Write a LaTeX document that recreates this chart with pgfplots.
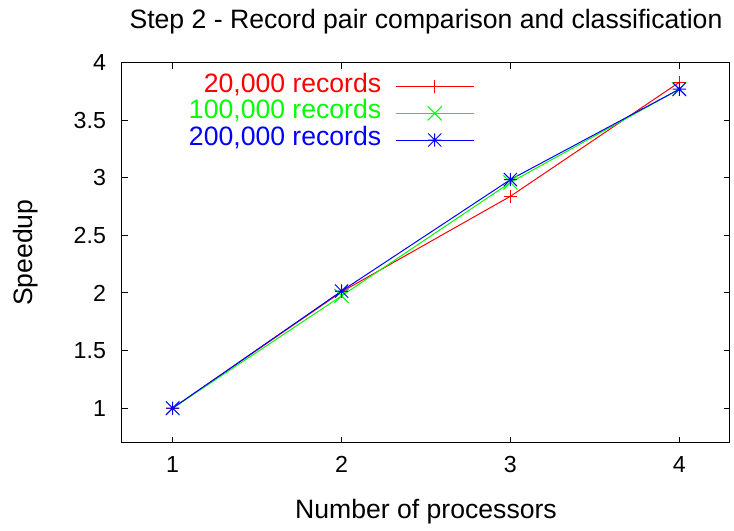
\documentclass[border=0pt]{standalone}
\usepackage{pgfplots}
\pgfplotsset{compat=1.18}
\usepackage{fontspec}
\setmainfont{Liberation Sans}

% gnuplot style marks, all drawn at full mark size
\pgfdeclareplotmark{gpplus}{%
  \pgfpathmoveto{\pgfqpoint{-\pgfplotmarksize}{0pt}}%
  \pgfpathlineto{\pgfqpoint{\pgfplotmarksize}{0pt}}%
  \pgfpathmoveto{\pgfqpoint{0pt}{-\pgfplotmarksize}}%
  \pgfpathlineto{\pgfqpoint{0pt}{\pgfplotmarksize}}%
  \pgfusepathqstroke}
\pgfdeclareplotmark{gpx}{%
  \pgfpathmoveto{\pgfqpoint{-\pgfplotmarksize}{-\pgfplotmarksize}}%
  \pgfpathlineto{\pgfqpoint{\pgfplotmarksize}{\pgfplotmarksize}}%
  \pgfpathmoveto{\pgfqpoint{-\pgfplotmarksize}{\pgfplotmarksize}}%
  \pgfpathlineto{\pgfqpoint{\pgfplotmarksize}{-\pgfplotmarksize}}%
  \pgfusepathqstroke}
\pgfdeclareplotmark{gpstar}{%
  \pgfpathmoveto{\pgfqpoint{-\pgfplotmarksize}{0pt}}%
  \pgfpathlineto{\pgfqpoint{\pgfplotmarksize}{0pt}}%
  \pgfpathmoveto{\pgfqpoint{0pt}{-\pgfplotmarksize}}%
  \pgfpathlineto{\pgfqpoint{0pt}{\pgfplotmarksize}}%
  \pgfpathmoveto{\pgfqpoint{-\pgfplotmarksize}{-\pgfplotmarksize}}%
  \pgfpathlineto{\pgfqpoint{\pgfplotmarksize}{\pgfplotmarksize}}%
  \pgfpathmoveto{\pgfqpoint{-\pgfplotmarksize}{\pgfplotmarksize}}%
  \pgfpathlineto{\pgfqpoint{\pgfplotmarksize}{-\pgfplotmarksize}}%
  \pgfusepathqstroke}

\definecolor{gpred}{RGB}{255,0,0}
\definecolor{gpgreen}{RGB}{0,255,0}
\definecolor{gpblue}{RGB}{0,0,255}

\begin{document}
\begin{tikzpicture}[font=\fontsize{13.3}{16}\selectfont]
\begin{axis}[
    scale only axis,
    width=304pt, height=190pt,
    xmin=0.7, xmax=4.3,
    ymin=0.7, ymax=4,
    xtick={1,2,3,4},
    ytick={1,1.5,2,2.5,3,3.5,4},
    tick align=inside,
    major tick length=3pt,
    tick style={black, line width=0.5pt},
    axis line style={line width=0.5pt},
    /pgf/number format/assume math mode=true,
    ticklabel style={font=\fontsize{11.6}{14}\selectfont},
    yticklabel style={xshift=-4.5pt},
    xticklabel style={yshift=-3.5pt},
    every axis title shift=0pt,
    title={Step 2 - Record pair comparison and classification},
    title style={at={(axis description cs:0.5,1.107)}, anchor=center},
    xlabel={Number of processors},
    xlabel style={at={(axis description cs:0.5,-0.1816)}, anchor=center},
    ylabel={Speedup},
    ylabel style={at={(axis description cs:-0.158,0.5)}, anchor=center},
    legend plot pos=right,
    legend cell align=right,
    legend image code/.code={%
        \draw[mark repeat=2, mark phase=2]
            plot coordinates {(0pt,0pt) (19.5pt,0pt) (39pt,0pt)};},
    legend style={
        draw=none, fill=none,
        inner xsep=0pt, inner ysep=0pt,
        column sep=5pt,
        nodes={inner xsep=2pt, inner ysep=0pt, text height=9.3pt, text depth=4pt},
        at={(rel axis cs:0.580,0.9726)}, anchor=north east
    },
    every axis plot/.append style={line width=0.5pt},
]
\addplot[color=gpred, mark=gpplus, mark size=3.3pt]
    coordinates {(1,1.00) (2,2.01) (3,2.84) (4,3.83)};
\addlegendentry[text=gpred]{20,000 records}
\addplot[color=gpgreen, mark=gpx, mark size=3.5pt]
    coordinates {(1,1.00) (2,1.975) (3,2.96) (4,3.77)};
\addlegendentry[text=gpgreen]{100,000 records}
\addplot[color=gpblue, mark=gpstar, mark size=3.3pt]
    coordinates {(1,1.00) (2,2.017) (3,2.985) (4,3.77)};
\addlegendentry[text=gpblue]{200,000 records}
\end{axis}
\path ([xshift=-61pt,yshift=-40.5pt]current axis.south west)
      ([xshift=2pt,yshift=31.35pt]current axis.north east);
\end{tikzpicture}
\end{document}
